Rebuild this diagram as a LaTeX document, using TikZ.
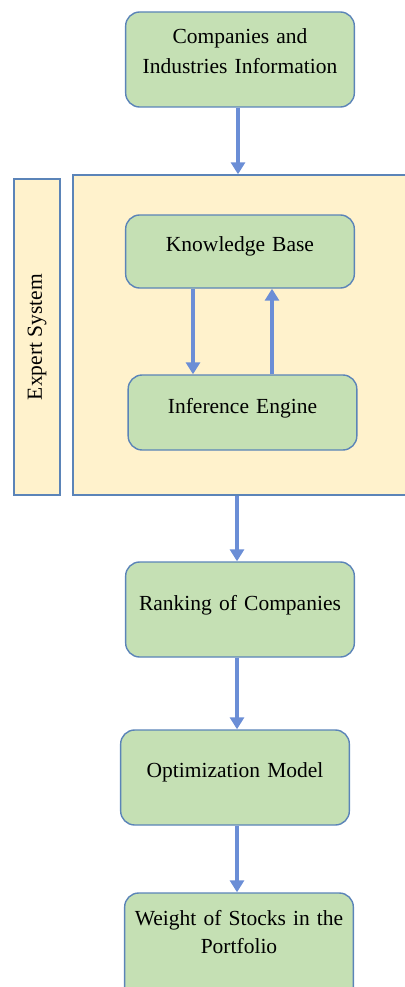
\documentclass[tikz,border=0pt]{standalone}
\usepackage{fontspec}
\setmainfont{Liberation Serif}
\usetikzlibrary{positioning,calc,arrows.meta}
\definecolor{boxfill}{HTML}{C5E0B4}
\definecolor{boxline}{HTML}{5B84B8}
\definecolor{sysfill}{HTML}{FFF2CC}
\definecolor{arrowcol}{HTML}{6B8ED6}
\tikzset{block/.style={draw=boxline, line width=1.4pt, fill=boxfill, rounded corners=14pt, text width=222pt, align=center, font=\fontsize{21.5}{30}\selectfont, text depth=14pt},
         panel/.style={draw=boxline, line width=1.4pt, fill=sysfill, inner sep=0pt},
         line/.style={draw=arrowcol, line width=4pt, -{Triangle[width=14pt,length=12pt]}}}

\begin{document}
\begin{tikzpicture}[x=1pt,y=-1pt]
    \useasboundingbox (0,0) rectangle (404,987);
    \node[panel, minimum width=333pt, minimum height=320pt] (sys) at (239.5,335) {};
    \node[panel, minimum width=46pt, minimum height=316pt] (lab) at (37,337) {};
    \node[rotate=90, font=\fontsize{21.5}{24}\selectfont] at (lab) {Expert System};

    \node[block, minimum height=95pt, text depth=46pt]  (info)   at (240,59.5)  {Companies and\\Industries Information};
    \node[block, minimum height=73pt]  (kb)     at (240,251.5) {Knowledge Base};
    \node[block, minimum height=75pt]  (ie)     at (242.5,412.5) {Inference Engine};
    \node[block, minimum height=95pt]  (rank)   at (240,609.5) {Ranking of Companies};
    \node[block, minimum height=95pt]  (opt)    at (235,777.5) {Optimization Model};
    \node[block, minimum height=112pt, text depth=62pt, font=\fontsize{21.5}{28}\selectfont] (weight) at (239,949)   {Weight of Stocks in the\\Portfolio};

    \draw[line]               ([xshift=-2pt]info.south) -- ([xshift=-2pt]info.south |- sys.north);
    \draw[line]               ([xshift=-47pt]kb.south) -- ([xshift=-47pt]kb.south |- ie.north);
    \draw[line]               ([xshift=32pt]kb.south |- ie.north) -- ([xshift=32pt]kb.south);
    \draw[line]               ([xshift=-2.5pt]sys.south) -- ([xshift=-2.5pt]sys.south |- rank.north);
    \draw[line]               ([xshift=-3pt]rank.south) -- ([xshift=-3pt]rank.south |- opt.north);
    \draw[line]               ([xshift=2pt]opt.south) -- ([xshift=2pt]opt.south |- weight.north);
\end{tikzpicture}
\end{document}
